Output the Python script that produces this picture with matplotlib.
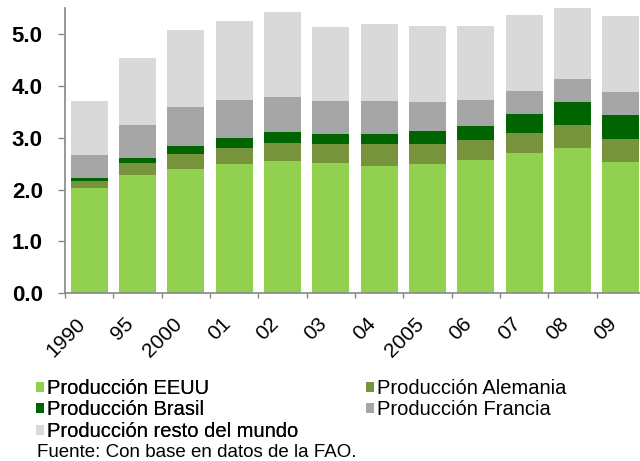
import numpy as np
import matplotlib
matplotlib.use('Agg')
import matplotlib.pyplot as plt
from matplotlib.patches import Patch

plt.rcParams['font.family'] = ['Liberation Sans', 'DejaVu Sans']

years = ['1990', '95', '2000', '01', '02', '03', '04', '2005', '06', '07', '08', '09']
eeuu = [2.03, 2.28, 2.40, 2.50, 2.55, 2.52, 2.46, 2.50, 2.57, 2.71, 2.80, 2.53]
alemania = [0.14, 0.24, 0.29, 0.31, 0.35, 0.36, 0.42, 0.38, 0.39, 0.38, 0.45, 0.45]
brasil = [0.06, 0.09, 0.15, 0.19, 0.21, 0.19, 0.19, 0.25, 0.27, 0.37, 0.44, 0.46]
francia = [0.44, 0.64, 0.76, 0.73, 0.68, 0.64, 0.64, 0.56, 0.50, 0.44, 0.45, 0.44]
resto = [1.04, 1.29, 1.48, 1.53, 1.64, 1.43, 1.49, 1.47, 1.43, 1.47, 1.38, 1.47]

series = [
    ('Producción EEUU', eeuu, '#92D050'),
    ('Producción Alemania', alemania, '#77933C'),
    ('Producción Brasil', brasil, '#006400'),
    ('Producción Francia', francia, '#A6A6A6'),
    ('Producción resto del mundo', resto, '#D9D9D9'),
]

fig = plt.figure(figsize=(6.4, 4.61), dpi=100)
ax = fig.add_axes([65/640, 0.3638, 580/640, 0.618])

x = np.arange(len(years))
bottom = np.zeros(len(years))
handles = {}
for name, vals, col in series:
    ax.bar(x, vals, width=0.77, bottom=bottom, color=col, label=name)
    handles[name] = Patch(facecolor=col, edgecolor='none')
    bottom += np.array(vals)

ax.set_xlim(-0.5, len(years) - 0.5)
ax.set_ylim(0, 5.5)
ax.set_yticks(np.arange(0, 5.1, 1.0))
ax.set_yticklabels(['%.1f' % v for v in np.arange(0, 5.1, 1.0)],
                   fontsize=16, fontweight='bold')
ax.set_xticks(x)
ax.set_xticklabels(years, rotation=45, ha='right', fontsize=15)
ax.set_xticks(np.arange(-0.5, len(years)), minor=True)
ax.tick_params(axis='x', which='major', length=0, pad=15)
ax.tick_params(axis='x', which='minor', length=3.6, width=1, color='#888888')
ax.tick_params(axis='y', length=5, width=1, color='#888888', pad=11)

for s in ['top', 'right']:
    ax.spines[s].set_visible(False)
for s in ['left', 'bottom']:
    ax.spines[s].set_color('#888888')
    ax.spines[s].set_linewidth(1.2)

col1 = ['Producción EEUU', 'Producción Brasil', 'Producción resto del mundo']
col2 = ['Producción Alemania', 'Producción Francia']
leg_kw = dict(frameon=False, loc='upper left', fontsize=14.5,
              handlelength=0.4, handleheight=0.4, handletextpad=0.15,
              labelspacing=0.12, borderpad=0, borderaxespad=0)
leg1 = fig.legend([handles[n] for n in col1], col1,
                  bbox_to_anchor=(36/640, 1 - 379/461), **leg_kw)
fig.add_artist(leg1)
fig.legend([handles[n] for n in col2], col2,
           bbox_to_anchor=(366/640, 1 - 379/461), **leg_kw)

fig.text(37/640, 1 - 452/461, 'Fuente: Con base en datos de la FAO.',
         fontsize=13.5, va='center', ha='left')

fig.savefig('out.png', dpi=100)
